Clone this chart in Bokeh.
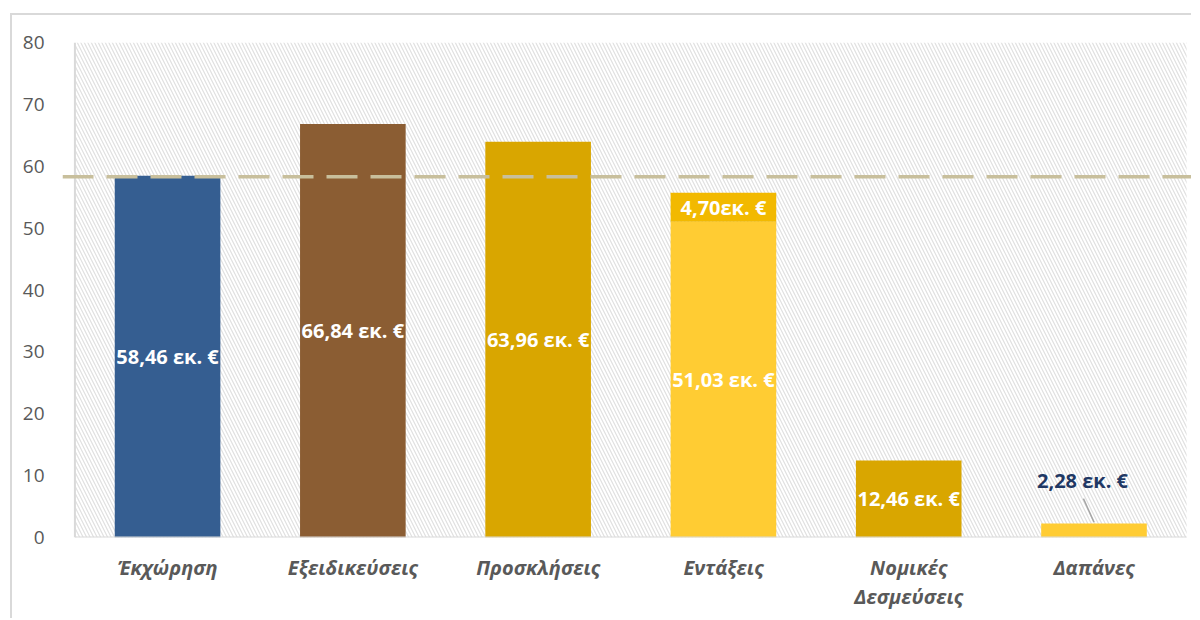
from bokeh.plotting import figure
from bokeh.models import Range1d, Span, ColumnDataSource, FixedTicker
from bokeh.core.properties import value
from bokeh.embed import file_html
from bokeh.resources import INLINE

# ---- data ----
categories = ["Έκχώρηση", "Εξειδικεύσεις", "Προσκλήσεις", "Εντάξεις", "Νομικές\nΔεσμεύσεις", "Δαπάνες"]
base_values = [58.46, 66.84, 63.96, 51.03, 12.46, 2.28]
extra_values = [0, 0, 0, 4.70, 0, 0]
base_labels = ["58,46 εκ. €", "66,84 εκ. €", "63,96 εκ. €", "51,03 εκ. €", "12,46 εκ. €", "2,28 εκ. €"]
extra_label = "4,70εκ. €"
reference_line = 58.3
y_ticks = [0, 10, 20, 30, 40, 50, 60, 70, 80]

# ---- styles ----
bar_colors = ["#355E91", "#8B5D33", "#D9A600", "#FFCC33", "#D9A600", "#FFCC33"]
extra_color = "#F2B900"
FONT = "Open Sans"

n = len(categories)
xs = list(range(n))

p = figure(width=1181, height=605, output_backend="svg", toolbar_location=None,
           x_range=Range1d(-0.567, n - 0.463), y_range=Range1d(0, 80),
           min_border_left=50, min_border_right=0, min_border_top=27, min_border_bottom=83)
p.styles = {"margin-left": "10px", "margin-top": "13px",
            "border-top": "2px solid #d9d9d9", "border-left": "2px solid #d9d9d9"}
p.outline_line_color = None
p.grid.visible = False
p.background_fill_color = "white"
p.border_fill_color = "white"

# hatched plot area
p.quad(left=[-0.5], right=[n - 0.5], bottom=[0], top=[80], fill_color="white", line_color=None,
       hatch_pattern="\\", hatch_color="#e0e0e0", hatch_scale=7, hatch_weight=1.2)

# bars
src = ColumnDataSource(dict(x=xs, top=base_values, color=bar_colors))
p.vbar(x="x", top="top", bottom=0, width=0.57, fill_color="color", line_color=None, source=src)

ex_x = [x for x, e in zip(xs, extra_values) if e > 0]
ex_b = [b for b, e in zip(base_values, extra_values) if e > 0]
ex_e = [e for e in extra_values if e > 0]
ex_t = [b + e for b, e in zip(ex_b, ex_e)]
p.vbar(x=ex_x, bottom=ex_b, top=ex_t, width=0.57, fill_color=extra_color, line_color=None)

# axis lines of the plot area
p.segment(x0=[-0.5, -0.5], y0=[0, 0], x1=[n - 0.5, -0.5], y1=[0, 80], line_color="#d9d9d9", line_width=2)

# labels inside bars (all but last)
inside = ColumnDataSource(dict(x=xs[:-1], y=[v / 2 for v in base_values[:-1]], t=base_labels[:-1]))
p.text(x="x", y="y", text="t", source=inside, text_color="white", text_font=value(FONT),
       text_font_style="bold", text_font_size="20px", text_align="center", text_baseline="middle")
p.text(x=ex_x, y=[b + e / 2 for b, e in zip(ex_b, ex_e)], text=[extra_label],
       text_color="white", text_font=value(FONT), text_font_style="bold", text_font_size="20px",
       text_align="center", text_baseline="middle")

# last label outside with leader line
lx = xs[-1] - 0.062
ly = base_values[-1] + 7.0
p.text(x=[lx], y=[ly], text=[base_labels[-1]], text_color="#1F3864", text_font=value(FONT),
       text_font_style="bold", text_font_size="20px", text_align="center", text_baseline="middle")
p.segment(x0=[lx + 0.005], y0=[base_values[-1] + 4.0], x1=[xs[-1]], y1=[base_values[-1] + 0.2],
          line_color="#a6a6a6", line_width=1.5)

# reference dashed line
p.add_layout(Span(location=reference_line, dimension="width", line_color="#C8BF9C",
                  line_width=3.5, line_dash="31 13"))

# axes
p.xaxis.ticker = FixedTicker(ticks=xs)
p.xaxis.major_label_overrides = {i: c for i, c in zip(xs, categories)}
p.xaxis.axis_line_color = None
p.xaxis.major_tick_line_color = None
p.xaxis.minor_tick_line_color = None
p.xaxis.major_label_text_font = FONT
p.xaxis.major_label_text_font_style = "bold italic"
p.xaxis.major_label_text_font_size = "20px"
p.xaxis.major_label_text_color = "#595959"
p.xaxis.major_label_text_line_height = 1.1
p.xaxis.major_label_standoff = 10

p.yaxis.ticker = FixedTicker(ticks=y_ticks)
p.yaxis.axis_line_color = None
p.yaxis.major_tick_line_color = None
p.yaxis.minor_tick_line_color = None
p.yaxis.major_label_text_font = FONT
p.yaxis.major_label_text_font_size = "19px"
p.yaxis.major_label_text_color = "#595959"
p.yaxis.major_label_standoff = 12

open("out.html", "w").write(file_html(p, INLINE))
